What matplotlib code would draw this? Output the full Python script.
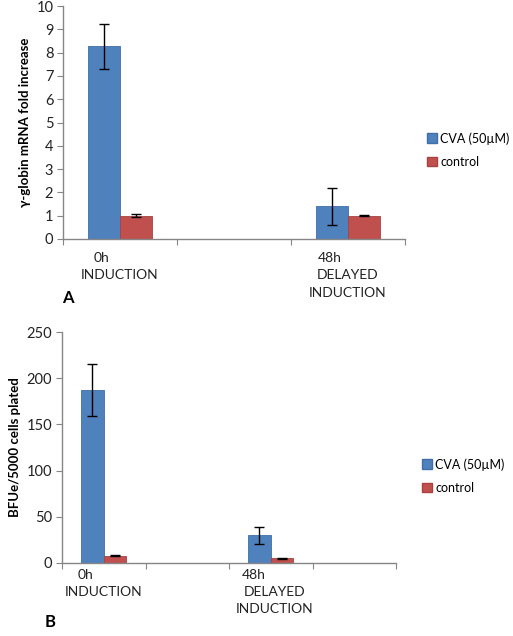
import matplotlib.pyplot as plt
from matplotlib.patches import Patch

# Panel A: gamma-globin mRNA fold increase
a_pos = [0, 2]
a_cva = [8.27, 1.40]
a_cva_err = [0.96, 0.78]
a_ctrl = [1.0, 1.0]
a_ctrl_err = [0.06, 0.01]

# Panel B: BFUe colonies
b_pos = [0, 2]
b_cva = [187, 30]
b_cva_err = [28, 9]
b_ctrl = [8, 5]
b_ctrl_err = [0.5, 0.5]

series_names = ["CVA (50\u00b5M)", "control"]
blue = "#4F81BD"
red = "#C0504D"
axis_gray = "#868686"

plt.rcParams['font.family'] = ['Lato', 'DejaVu Sans']

fig = plt.figure(figsize=(5.13, 6.36), dpi=100)


def style_axes(ax, ncat, ymax, ystep):
    ax.set_xlim(-0.5, ncat - 0.5)
    ax.set_ylim(0, ymax)
    ax.set_yticks(range(0, ymax + 1, ystep))
    ax.set_xticks([i - 0.5 for i in range(ncat + 1)])
    ax.set_xticklabels([])
    for s in ['top', 'right']:
        ax.spines[s].set_visible(False)
    for s in ['left', 'bottom']:
        ax.spines[s].set_color(axis_gray)
        ax.spines[s].set_linewidth(1.0)
    ax.tick_params(axis='y', colors=axis_gray, labelcolor='#222222', labelsize=10.5, length=4, pad=3)
    ax.tick_params(axis='x', colors=axis_gray, length=4)


def draw_bars(ax, pos, cva, cva_err, ctrl, ctrl_err, w):
    ekw = dict(ecolor='black', elinewidth=1.0, capsize=3.5, capthick=1.0)
    ax.bar([p - w / 2 for p in pos], cva, w, color=blue, edgecolor='#3E6FA8',
           linewidth=0.6, yerr=cva_err, error_kw=ekw)
    ax.bar([p + w / 2 for p in pos], ctrl, w, color=red, edgecolor='#A84240',
           linewidth=0.6, yerr=ctrl_err, error_kw=ekw)


def cat_label(ax, x, lines, y0, dy):
    for i, (txt, dx) in enumerate(lines):
        ax.text(x + dx, y0 - i * dy, txt, transform=ax.get_xaxis_transform(),
                ha='center', va='center', fontsize=10, color='#222222')


# ---- Panel A ----
axA = fig.add_axes([63 / 513, 1 - 239 / 636, 342 / 513, 233 / 636])
style_axes(axA, 3, 10, 1)
draw_bars(axA, a_pos, a_cva, a_cva_err, a_ctrl, a_ctrl_err, 0.28)
axA.set_ylabel("\u03b3-globin mRNA fold increase", fontsize=9.5, fontweight='bold', labelpad=4)
cat_label(axA, 0, [("0h", -0.16), ("INDUCTION", 0.0)], -0.08, 0.075)
cat_label(axA, 2, [("48h", -0.16), ("DELAYED", 0.0), ("INDUCTION", 0.0)], -0.08, 0.075)
fig.text(68 / 513, 1 - 298 / 636, "A", fontsize=12, fontweight='bold', ha='center', va='center')

handles = [Patch(facecolor=blue, edgecolor='#3E6FA8'), Patch(facecolor=red, edgecolor='#A84240')]
fig.legend(handles, series_names, loc='upper left', bbox_to_anchor=(422 / 513, 1 - 127 / 636),
           frameon=False, fontsize=9, handlelength=0.8, handleheight=0.8,
           handletextpad=0.25, labelspacing=0.9, borderaxespad=0)

# ---- Panel B ----
axB = fig.add_axes([62 / 513, 1 - 563 / 636, 334 / 513, 231 / 636])
style_axes(axB, 4, 250, 50)
draw_bars(axB, b_pos, b_cva, b_cva_err, b_ctrl, b_ctrl_err, 0.27)
axB.set_ylabel("BFUe/5000 cells plated", fontsize=9.5, fontweight='bold', labelpad=4)
cat_label(axB, 0, [("0h", -0.22), ("INDUCTION", 0.0)], -0.05, 0.075)
cat_label(axB, 2, [("48h", -0.2), ("DELAYED", 0.05), ("INDUCTION", 0.05)], -0.05, 0.075)
fig.text(50 / 513, 1 - 622 / 636, "B", fontsize=12, fontweight='bold', ha='center', va='center')

fig.legend(handles, series_names, loc='upper left', bbox_to_anchor=(417 / 513, 1 - 453 / 636),
           frameon=False, fontsize=9, handlelength=0.8, handleheight=0.8,
           handletextpad=0.25, labelspacing=0.9, borderaxespad=0)

fig.savefig("out.png", dpi=100)
